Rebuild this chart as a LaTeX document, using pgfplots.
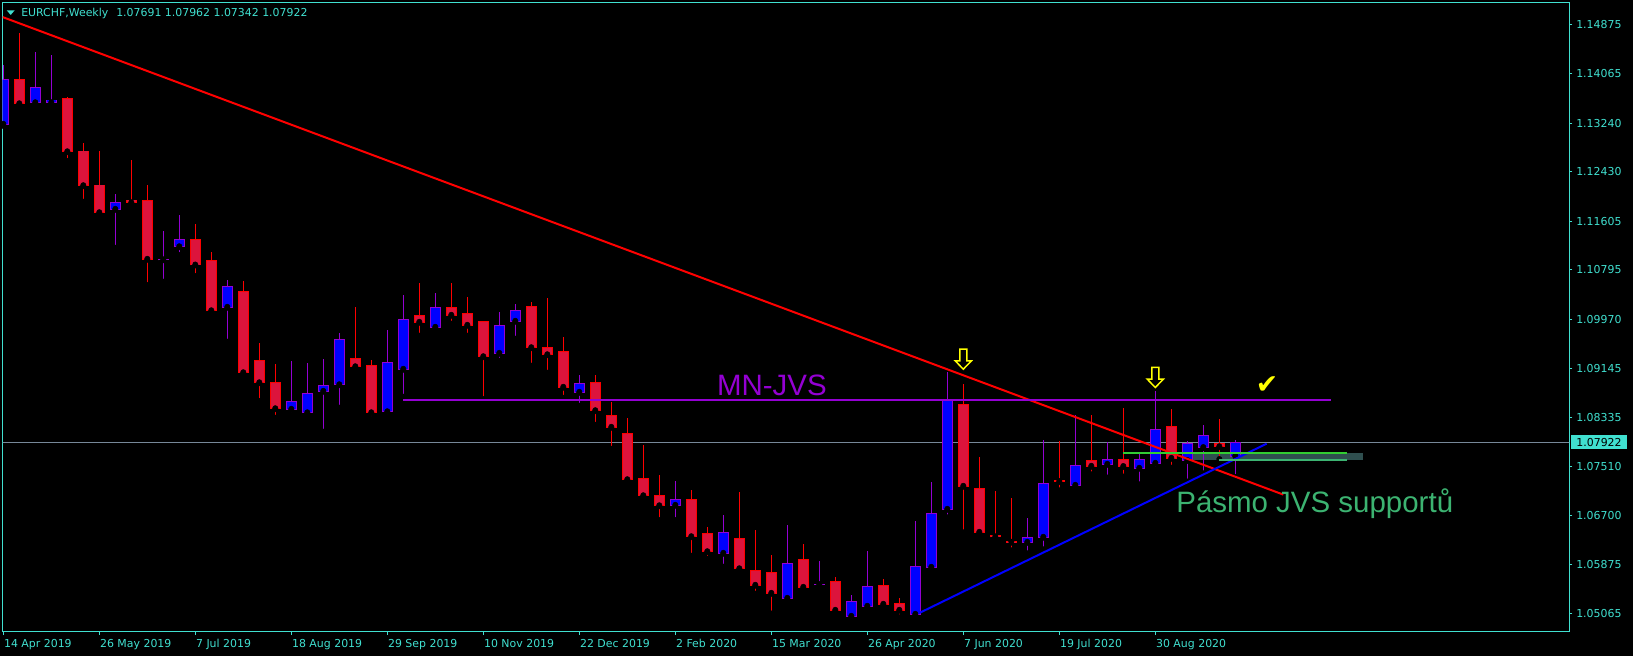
\documentclass[border=0pt]{standalone}
\usepackage{pgfplots}
\pgfplotsset{compat=1.18}
\usepackage{pgfplotstable}
\usepackage{fontspec}
\setmainfont{DejaVu Sans}
\newfontfamily\arialf{Liberation Sans}
\newfontfamily\dejavu{DejaVu Sans}
\definecolor{tq}{RGB}{64,224,208}
\definecolor{bullfill}{RGB}{0,0,255}
\definecolor{bullline}{RGB}{148,0,211}
\definecolor{bearfill}{RGB}{220,20,60}
\definecolor{bearline}{RGB}{255,0,0}
\definecolor{pricegray}{RGB}{119,136,153}
\definecolor{zone}{RGB}{47,79,79}
\definecolor{limeg}{RGB}{50,205,50}
\definecolor{seag}{RGB}{60,179,113}
\definecolor{mtyellow}{RGB}{255,255,0}

\pgfplotstableread{
i o h l c
0 1.13220 1.14208 1.13192 1.13970
2 1.13580 1.14430 1.13567 1.13837
3 1.13580 1.14375 1.13497 1.13625
7 1.11803 1.12058 1.11163 1.11920
10 1.10962 1.11447 1.10597 1.10970
11 1.11180 1.11708 1.11042 1.11303
14 1.10170 1.10625 1.09597 1.10520
18 1.08470 1.09275 1.08375 1.08603
19 1.08413 1.09242 1.08363 1.08737
20 1.08770 1.09308 1.08097 1.08870
21 1.08880 1.09742 1.08497 1.09637
24 1.08430 1.09792 1.08330 1.09253
25 1.09137 1.10375 1.08680 1.09970
27 1.09837 1.10408 1.09797 1.10170
31 1.09403 1.10092 1.09280 1.09870
32 1.09937 1.10225 1.09647 1.10120
36 1.08753 1.09042 1.08530 1.08903
42 1.06870 1.07275 1.06625 1.06970
45 1.06070 1.06708 1.05847 1.06420
49 1.05320 1.06542 1.05263 1.05903
51 1.05548 1.05942 1.05470 1.05558
53 1.05020 1.05370 1.05003 1.05270
54 1.05187 1.06108 1.05175 1.05520
57 1.05053 1.06603 1.05042 1.05853
58 1.05837 1.07253 1.05753 1.06737
59 1.06803 1.09097 1.06670 1.08620
64 1.06253 1.06653 1.06070 1.06337
65 1.06337 1.07953 1.06137 1.07237
67 1.07203 1.08370 1.07137 1.07537
69 1.07553 1.07925 1.07333 1.07638
71 1.07487 1.07725 1.07220 1.07633
72 1.07570 1.08775 1.07470 1.08137
74 1.07617 1.07938 1.07267 1.07903
75 1.07833 1.08205 1.07403 1.08033
77 1.07691 1.07962 1.07342 1.07922
}\bull

\pgfplotstableread{
i o h l c
1 1.13970 1.14747 1.13480 1.13563
4 1.13642 1.13675 1.12608 1.12763
5 1.12775 1.12903 1.11930 1.12197
6 1.12208 1.12775 1.11680 1.11747
8 1.11958 1.12625 1.11830 1.11913
9 1.11942 1.12208 1.10542 1.10970
12 1.11303 1.11558 1.10692 1.10875
13 1.10942 1.11087 1.10097 1.10113
15 1.10437 1.10608 1.09047 1.09080
16 1.09287 1.09575 1.08608 1.08913
17 1.08920 1.09225 1.08330 1.08480
22 1.09320 1.10175 1.09080 1.09180
23 1.09192 1.09292 1.08308 1.08413
26 1.10037 1.10575 1.09697 1.09920
28 1.10170 1.10575 1.09897 1.10037
29 1.10070 1.10342 1.09697 1.09870
30 1.09937 1.09937 1.08642 1.09347
33 1.10187 1.10258 1.09197 1.09497
34 1.09503 1.10325 1.09080 1.09380
35 1.09437 1.09675 1.08663 1.08837
37 1.08920 1.09042 1.08213 1.08447
38 1.08370 1.08592 1.07813 1.08170
39 1.08070 1.08325 1.07280 1.07297
40 1.07320 1.07875 1.06997 1.07030
41 1.07037 1.07375 1.06625 1.06863
43 1.06970 1.07125 1.06030 1.06347
44 1.06403 1.06508 1.05980 1.06097
46 1.06320 1.07092 1.05730 1.05813
47 1.05787 1.06458 1.05397 1.05537
48 1.05753 1.06042 1.05067 1.05403
50 1.05970 1.06225 1.05420 1.05503
52 1.05603 1.05670 1.05063 1.05120
55 1.05537 1.05637 1.05170 1.05220
56 1.05237 1.05320 1.05003 1.05120
60 1.08553 1.08887 1.06420 1.07187
61 1.07153 1.07670 1.06353 1.06420
62 1.06362 1.07103 1.06270 1.06345
63 1.06272 1.06987 1.06120 1.06255
66 1.07283 1.07937 1.07120 1.07267
68 1.07620 1.08370 1.07387 1.07520
70 1.07638 1.08487 1.07350 1.07517
73 1.08188 1.08475 1.07497 1.07653
76 1.07903 1.08305 1.07642 1.07847
}\bear

\begin{document}
\begin{tikzpicture}
\fill[black] (-2.025pt,-18pt) rectangle (1222.725pt,474pt);
\begin{axis}[
  at={(0,0)}, anchor=south west,
  scale only axis,
  width=1174.95pt, height=471.975pt,
  xmin=-0.0375, xmax=97.875,
  ymin=1.047583, ymax=1.152467,
  clip mode=individual,
  axis line style={draw=tq, line width=0.75pt},
  xtick pos=left, ytick pos=right, yticklabel pos=right,
  tick align=outside,
  major tick length=2.25pt,
  tick style={draw=tq, line width=0.75pt},
  tick label style={font=\dejavu\fontsize{8.2}{9}\selectfont, text=tq},
  xtick={0,6,12,18,24,30,36,42,48,54,60,66,72},
  xticklabels={14 Apr 2019,26 May 2019,7 Jul 2019,18 Aug 2019,29 Sep 2019,10 Nov 2019,22 Dec 2019,2 Feb 2020,15 Mar 2020,26 Apr 2020,7 Jun 2020,19 Jul 2020,30 Aug 2020},
  xticklabel style={anchor=north west, inner sep=0pt, xshift=0.4pt, yshift=-3pt},
  ytick={1.14875,1.14065,1.13240,1.12430,1.11605,1.10795,1.09970,1.09145,1.08335,1.07510,1.06700,1.05875,1.05065},
  yticklabels={1.14875,1.14065,1.13240,1.12430,1.11605,1.10795,1.09970,1.09145,1.08335,1.07510,1.06700,1.05875,1.05065},
  yticklabel style={anchor=west, inner sep=0pt, xshift=2.75pt},
  candle/.style={only marks, mark=none, error bars/.cd, y dir=plus, y explicit, error mark=none},
]
% current price line
\addplot[color=pricegray, line width=0.75pt] coordinates {(-1,1.07922) (100,1.07922)};
% support zone
\addplot[fill=zone, draw=none] coordinates {(74.36,1.07737) (85,1.07737) (85,1.07625) (74.36,1.07625)} --cycle;
% wicks
\addplot[candle, error bar style={color=bullline, line width=0.75pt, line cap=butt}]
  table[x=i, y=l, y error plus expr={\thisrow{h}-\thisrow{l}}] {\bull};
\addplot[candle, error bar style={color=bearline, line width=0.75pt, line cap=butt}]
  table[x=i, y=l, y error plus expr={\thisrow{h}-\thisrow{l}}] {\bear};
% bodies: border (1px larger all round)
\addplot[candle, error bar style={color=bullline, line width=8.25pt, line cap=butt}]
  table[x=i, y expr={\thisrow{o}-0.00008}, y error plus expr={\thisrow{c}-\thisrow{o}+0.00016}] {\bull};
\addplot[candle, error bar style={color=bearline, line width=8.25pt, line cap=butt}]
  table[x=i, y expr={\thisrow{c}-0.00008}, y error plus expr={\thisrow{o}-\thisrow{c}+0.00016}] {\bear};
% bodies: fill
\addplot[candle, error bar style={color=bullfill, line width=6.75pt, line cap=butt}]
  table[x=i, y expr={\thisrow{o}+0.00008}, y error plus expr={max(\thisrow{c}-\thisrow{o}-0.00016,0)}] {\bull};
\addplot[candle, error bar style={color=bearfill, line width=6.75pt, line cap=butt}]
  table[x=i, y expr={\thisrow{c}+0.00008}, y error plus expr={max(\thisrow{o}-\thisrow{c}-0.00016,0)}] {\bear};
% trend lines
\addplot[color=red, line width=1.5pt] coordinates {(-0.04,1.15007) (80,1.07048)};
\addplot[color=bullline, line width=1.5pt] coordinates {(25,1.08625) (83,1.08625)};
\addplot[color=blue, line width=1.5pt] coordinates {(57.29,1.05080) (78.96,1.07897)};
\addplot[color=limeg, line width=1.5pt] coordinates {(70,1.07747) (84,1.07747)};
\addplot[color=seag, line width=1.5pt] coordinates {(76,1.07630) (84,1.07630)};
% annotations
\node[anchor=base west, inner sep=0pt, text=bullline, font=\arialf\fontsize{22.1}{24}\selectfont] at (axis cs:44.59,1.08697) {MN-JVS};
\node[anchor=base west, inner sep=0pt, text=seag, font=\arialf\fontsize{22.1}{24}\selectfont] at (axis cs:73.3,1.06747) {Pásmo JVS supportů};
\draw[mtyellow, line width=1.1pt, line join=miter] (axis cs:60,1.09305) ++(-2.6pt,7.6pt) -- ++(5.2pt,0pt) -- ++(0pt,-8.8pt) -- ++(3.5pt,0pt) -- ++(-6.1pt,-6.3pt) -- ++(-6.1pt,6.3pt) -- ++(3.5pt,0pt) -- cycle;
\draw[mtyellow, line width=1.1pt, line join=miter] (axis cs:72,1.09000) ++(-2.6pt,7.6pt) -- ++(5.2pt,0pt) -- ++(0pt,-8.8pt) -- ++(3.5pt,0pt) -- ++(-6.1pt,-6.3pt) -- ++(-6.1pt,6.3pt) -- ++(3.5pt,0pt) -- cycle;
\node[inner sep=0pt, text=mtyellow, font=\dejavu\fontsize{20}{22}\selectfont] at (axis cs:78.99,1.08867) {✔};
% price label
\node[anchor=west, fill=tq, text=black, inner xsep=4.1pt, inner ysep=0pt, minimum height=10.3pt, font=\dejavu\fontsize{8.2}{9}\selectfont, xshift=1.05pt] at (axis cs:97.875,1.07922) {1.07922};
% title
\fill[tq] (rel axis cs:0,1) ++(3pt,-5.7pt) -- ++(6pt,0pt) -- ++(-3pt,-3.5pt) -- cycle;
\node[anchor=base west, inner sep=0pt, text=tq, font=\dejavu\fontsize{8.2}{9}\selectfont, xshift=13.725pt, yshift=-10.5pt] at (rel axis cs:0,1) {EURCHF,Weekly};
\node[anchor=base west, inner sep=0pt, text=tq, font=\dejavu\fontsize{8.2}{9}\selectfont, xshift=84.975pt, yshift=-10.5pt] at (rel axis cs:0,1) {1.07691 1.07962 1.07342 1.07922};
\end{axis}
\pgfresetboundingbox
\path[use as bounding box] (-2.025pt,-18pt) rectangle (1222.725pt,474pt);
\end{tikzpicture}
\end{document}
